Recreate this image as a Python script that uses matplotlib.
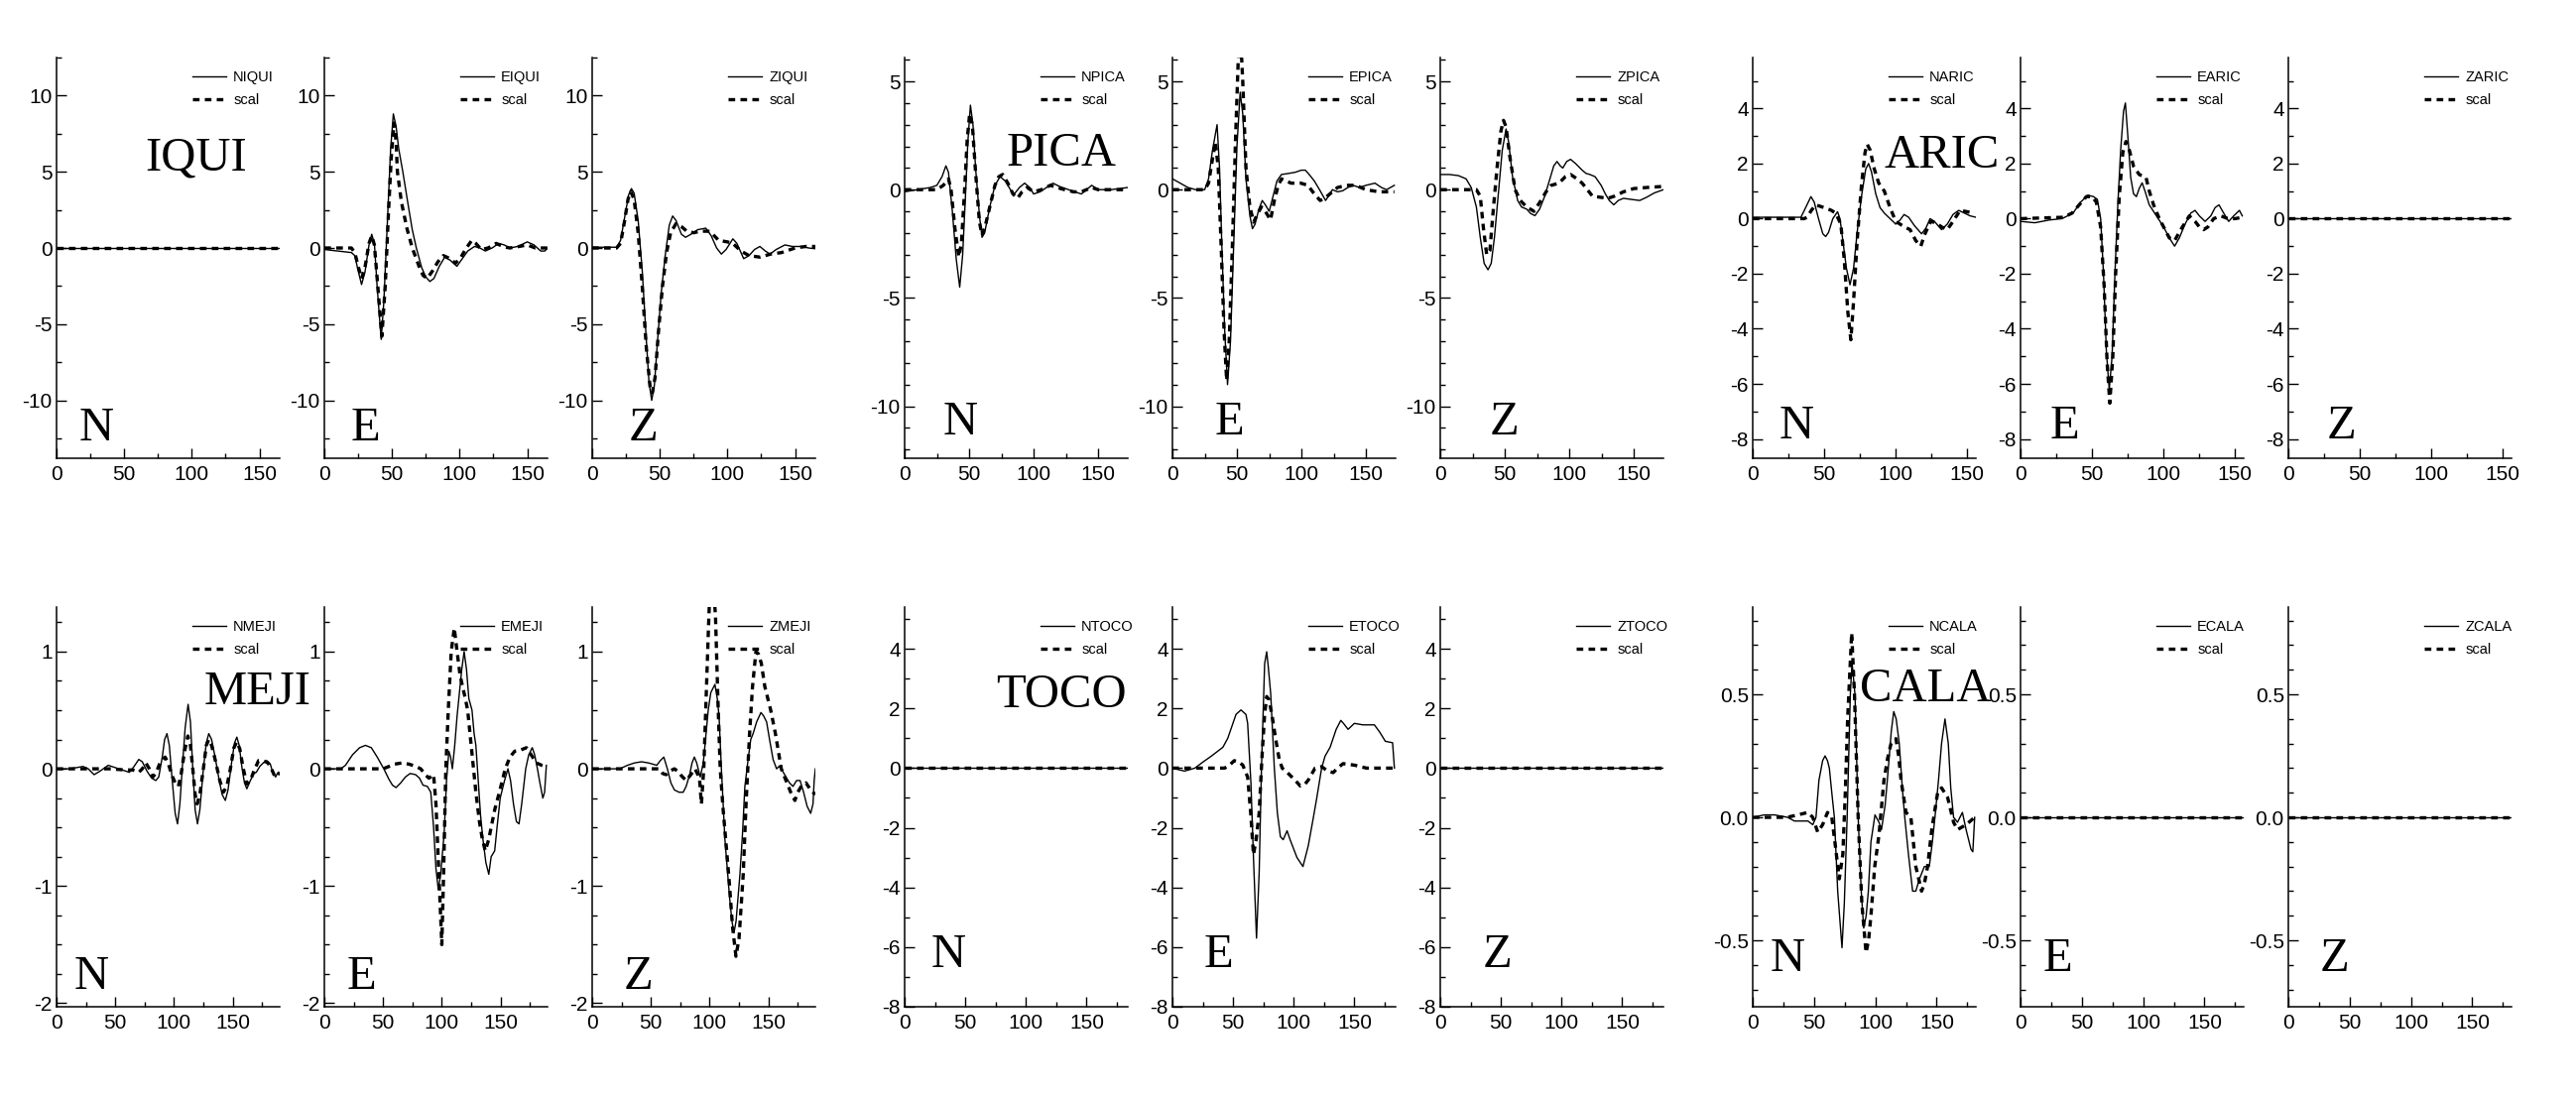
import matplotlib
matplotlib.use('Agg')
import matplotlib.pyplot as plt
from matplotlib.ticker import MultipleLocator, FormatStrFormatter

plt.rcParams['font.family'] = ['Liberation Sans', 'DejaVu Sans']
plt.rcParams['axes.unicode_minus'] = False

# ---- data: (time [s], amplitude) ----
stations = ['IQUI', 'PICA', 'ARIC', 'MEJI', 'TOCO', 'CALA']
components = ['N', 'E', 'Z']
durations = [165, 173, 156, 190, 184, 182]
y_ranges = [(-13.8, 12.5), (-12.4, 6.1), (-8.7, 5.85), (-2.03, 1.38), (-8.0, 5.4), (-0.77, 0.855)]
y_major = [5, 5, 2, 1, 2, 0.5]
y_minor = [2.5, 1, 1, 0.25, 1, 0.1]
y_fmt = ['%g', '%g', '%g', '%g', '%g', '%.1f']

iqui_n_obs = [(0, 0), (165, 0)]
iqui_n_syn = [(0, 0), (165, 0)]
iqui_e_obs = [(0, -0.1), (10, -0.2), (20, -0.3), (22.5, -0.5), (25, -1.5), (27.5, -2.4), (30, -1.6), (33, 0.2),
              (35, 0.9), (37, 0.3), (39, -2.5), (42, -6.0), (44, -3.5), (47, 2.5), (49, 6.5), (51, 8.8), (53, 8.0),
              (55, 6.5), (58, 5.0), (62, 2.8), (65, 1.2), (68, 0.0), (72, -1.3), (75, -1.9), (78, -2.2), (81, -2.0),
              (85, -1.2), (89, -0.6), (93, -0.8), (98, -1.2), (102, -0.7), (106, -0.2), (111, 0.1), (115, 0.0),
              (119, -0.2), (124, 0.0), (129, 0.3), (133, 0.2), (137, 0.0), (143, 0.1), (150, 0.4), (155, 0.2),
              (160, -0.2), (163, -0.2), (165, 0.0)]
iqui_e_syn = [(0, 0), (20, 0), (22.5, -0.3), (25, -1.2), (27.5, -2.0), (30, -1.3), (33, 0.3), (35, 0.8), (37, 0.2),
              (39.5, -2.5), (42.5, -5.8), (45, -2.5), (47.5, 2.5), (49.5, 6.0), (51.5, 8.2), (53, 7.0), (54, 5.0),
              (57, 3.0), (61, 1.3), (65, 0.0), (70, -1.2), (73, -1.8), (76, -2.0), (80, -1.5), (84, -0.9), (88, -0.5),
              (93, -0.7), (97, -1.0), (101, -0.6), (105, 0.0), (109, 0.5), (112, 0.3), (116, -0.1), (121, 0.0),
              (127, 0.3), (132, 0.1), (137, 0.0), (144, 0.1), (150, 0.2), (156, 0.0), (165, 0.0)]
iqui_z_obs = [(0, 0.05), (18, 0.05), (21, 0.5), (24, 2.0), (27, 3.5), (29, 3.9), (31, 3.6), (34, 1.8), (37, -1.5),
              (40, -6.0), (42, -8.8), (44, -10.0), (46, -9.0), (48, -6.5), (51, -3.0), (54, -0.5), (57, 1.5),
              (59.5, 2.1), (62, 1.8), (66, 0.9), (69, 0.7), (73, 0.9), (78, 1.2), (84, 1.3), (88, 0.8), (92, 0.0),
              (95.5, -0.4), (99, -0.1), (104, 0.6), (107, 0.3), (112, -0.7), (116, -0.5), (120, -0.1), (124, 0.1),
              (128, -0.2), (131.5, -0.4), (136, -0.1), (142.5, 0.2), (148, 0.1), (155, 0.1), (160, 0.0), (165, -0.05)]
iqui_z_syn = [(0, 0), (18, 0), (21, 0.3), (24, 1.8), (26.5, 3.2), (28.5, 3.7), (31, 3.2), (34, 1.0), (37, -2.5),
              (40, -6.5), (43, -9.3), (44.5, -9.5), (46.5, -8.5), (49, -5.5), (52, -2.5), (55, -0.3), (58, 1.0),
              (62, 1.6), (66, 1.4), (70, 1.1), (75, 1.0), (80, 1.1), (87, 1.1), (93.5, 0.5), (100, 0.4), (104, 0.3),
              (110, -0.2), (116, -0.5), (124, -0.6), (132, -0.4), (140, -0.3), (150, 0.0), (158, 0.1), (165, 0.1)]

pica_n_obs = [(0, -0.1), (10, 0.0), (20, 0.1), (25, 0.2), (29, 0.6), (32, 1.1), (34, 0.8), (37, -1.0), (40, -3.2),
              (42.7, -4.5), (45, -3.0), (47, -0.5), (49, 2.2), (51, 3.9), (53, 3.0), (55, 1.0), (58, -1.2),
              (60, -2.2), (62, -2.0), (66, -0.8), (70, 0.2), (74, 0.6), (78, 0.4), (82, 0.0), (85, -0.2), (89, 0.1),
              (93, 0.3), (97, 0.1), (100, -0.2), (105, -0.1), (110, 0.1), (115, 0.3), (120, 0.15), (127, 0.0),
              (132, -0.1), (137, -0.2), (141, 0.0), (145, 0.2), (150, 0.0), (160, 0.0), (173, 0.1)]
pica_n_syn = [(0, 0), (25, 0.0), (30, 0.2), (34, 0.5), (36, 0.0), (39, -1.8), (42, -3.1), (44, -2.5), (46.5, 0.0),
              (48.5, 2.3), (50.4, 3.5), (52.5, 3.0), (55, 0.8), (58, -1.5), (60, -2.1), (62, -1.8), (66, -0.8),
              (70, 0.2), (73, 0.6), (76, 0.7), (80, 0.3), (84, -0.2), (87.5, -0.4), (91, -0.1), (95, 0.1),
              (100, -0.1), (106, 0.0), (113, 0.2), (118, 0.1), (124, 0.0), (131, -0.1), (137, -0.1), (145, 0.1),
              (150, 0.0), (173, 0.0)]
pica_e_obs = [(0, 0.5), (6, 0.3), (12, 0.1), (18, 0.0), (25, 0.0), (28, 0.5), (31, 1.8), (34.6, 3.0), (36.5, 1.0),
              (38.5, -3.0), (40.5, -6.5), (42.7, -9.0), (45, -7.0), (47.5, -2.5), (50, 2.0), (52.5, 4.5), (54.5, 3.5),
              (57, 0.5), (60, -1.2), (62, -1.8), (64, -1.6), (67, -0.9), (69.6, -0.5), (72, -0.7), (75, -1.0),
              (78, -0.3), (81, 0.4), (84.5, 0.7), (90, 0.75), (95, 0.8), (100, 0.9), (103, 0.9), (106, 0.7),
              (110, 0.4), (114, 0.0), (118.7, -0.5), (121, -0.3), (124, 0.0), (128, -0.1), (132, -0.05), (136, 0.1),
              (140, 0.2), (145, 0.1), (150, 0.2), (157, 0.3), (162, 0.1), (166, 0.0), (172, 0.2)]
pica_e_syn = [(0, 0), (25, 0.0), (28, 0.3), (31, 1.4), (33.3, 2.2), (35.5, 1.0), (38, -3.0), (40, -6.5), (42, -8.8),
              (44, -7.0), (46.5, -2.5), (49, 2.5), (51, 6.0), (52.5, 7.5), (54.5, 5.0), (57, 1.0), (60, -0.8),
              (63, -1.5), (66, -1.1), (69, -0.8), (72, -1.0), (76, -1.4), (79, -0.5), (82, 0.2), (84.5, 0.5),
              (88, 0.4), (92, 0.3), (99.5, 0.3), (105, 0.2), (110, -0.2), (114.5, -0.5), (118, -0.4), (122, -0.2),
              (128, 0.1), (135, 0.2), (142, 0.2), (150, 0.0), (160, -0.1), (172, -0.1)]
pica_z_obs = [(0, 0.7), (7, 0.7), (14, 0.65), (20, 0.5), (24, 0.1), (28, -0.8), (31, -2.2), (34, -3.4), (37, -3.7),
              (39.5, -3.4), (42, -2.2), (45, -0.2), (48, 1.8), (51, 2.8), (53, 2.2), (56, 0.6), (60, -0.5),
              (63, -0.8), (67, -0.9), (70, -1.1), (73.4, -1.2), (77, -0.9), (81, -0.3), (85, 0.5), (88, 1.1),
              (90.5, 1.3), (93, 1.1), (95, 1.0), (98, 1.3), (101, 1.4), (105, 1.2), (110, 0.9), (113, 0.75),
              (116, 0.7), (120, 0.6), (124.7, 0.2), (128, -0.2), (131, -0.5), (134.5, -0.7), (138, -0.5),
              (142, -0.4), (148, -0.45), (154.6, -0.5), (160, -0.35), (166, -0.15), (173, 0.0)]
pica_z_syn = [(0, 0), (28, 0.0), (31, -0.3), (33.5, -1.8), (36, -3.0), (38.5, -2.8), (41, -1.0), (44, 1.0), (47, 2.7),
              (49, 3.2), (51, 2.9), (54, 1.5), (58, 0.0), (62, -0.5), (67, -0.8), (72.6, -1.0), (77, -0.6),
              (82, -0.1), (86, 0.2), (92, 0.3), (97, 0.6), (101, 0.7), (106, 0.5), (110, 0.3), (114, 0.0),
              (118, -0.3), (124, -0.35), (130, -0.4), (135, -0.3), (142, -0.1), (150, 0.05), (160, 0.1), (173, 0.15)]

aric_n_obs = [(0, 0.05), (15, 0.05), (33.7, 0.05), (37, 0.4), (40.7, 0.8), (43, 0.6), (46, 0.0), (49, -0.55),
              (51, -0.65), (53, -0.5), (56, 0.0), (59.3, 0.25), (61, 0.0), (63, -0.8), (65.5, -1.8), (68, -2.4),
              (70.5, -1.8), (73, -0.5), (76, 0.8), (79, 1.8), (81, 2.0), (83, 1.7), (86, 0.9), (89, 0.4), (92, 0.2),
              (96, 0.0), (100, -0.2), (103, -0.05), (105.8, 0.15), (109, 0.05), (113, -0.25), (118, -0.55),
              (121, -0.35), (124, 0.0), (127, -0.1), (132, -0.4), (136, -0.2), (140, 0.15), (144, 0.3), (148, 0.2),
              (152, 0.1), (156, 0.05)]
aric_n_syn = [(0, 0), (36, 0.0), (38, 0.05), (41, 0.3), (44, 0.5), (50, 0.4), (55, 0.3), (58, 0.2), (61.6, -0.2),
              (64, -1.5), (66.5, -3.4), (68.6, -4.4), (70.5, -3.0), (73, -0.8), (76, 1.2), (78.5, 2.4), (80, 2.7),
              (82, 2.5), (85, 1.8), (88, 1.3), (92, 1.0), (96, 0.4), (100, -0.1), (106, -0.3), (110, -0.4),
              (114, -0.8), (117.5, -1.0), (120, -0.6), (124.4, -0.1), (128, -0.15), (132, -0.3), (136, -0.4),
              (140, -0.1), (145, 0.3), (150, 0.25), (154.7, 0.2)]
aric_e_obs = [(0, -0.1), (10, -0.15), (20, -0.05), (29, 0.0), (36.7, 0.2), (42, 0.6), (47, 0.85), (51, 0.8),
              (53.7, 0.7), (56, 0.0), (58, -2.0), (60, -4.8), (62, -6.2), (64, -5.0), (66, -2.0), (68, 0.5),
              (70, 2.5), (72, 3.9), (73.3, 4.2), (75, 3.0), (77, 1.5), (79, 0.9), (81, 0.8), (83, 1.1), (85, 1.3),
              (87, 1.0), (90, 0.5), (95, 0.1), (100, -0.3), (104, -0.7), (107.7, -1.0), (111, -0.7), (115, -0.2),
              (119, 0.2), (122, 0.3), (125, 0.1), (129, -0.1), (133, 0.1), (136, 0.4), (138.7, 0.5), (142, 0.2),
              (145.5, -0.1), (149, 0.1), (153, 0.3), (155, 0.1)]
aric_e_syn = [(0, 0), (30, 0.05), (36, 0.2), (41, 0.5), (46, 0.8), (50, 0.8), (53, 0.6), (56, -0.3), (58.5, -2.5),
              (60.5, -5.2), (62.4, -6.7), (64.5, -5.0), (66.5, -2.0), (69, 0.8), (71.5, 2.4), (73.7, 2.8), (76, 2.5),
              (79, 1.9), (83, 1.6), (87.7, 1.5), (90, 1.0), (93, 0.5), (97, 0.0), (101, -0.4), (104, -0.7),
              (107.7, -0.8), (112, -0.4), (118, 0.1), (122, -0.1), (125, -0.3), (128, -0.4), (131, -0.3), (135, 0.0),
              (140, 0.1), (145, 0.0), (150, 0.0), (155, 0.05)]
aric_z_obs = [(0, 0), (156, 0)]
aric_z_syn = [(0, 0), (156, 0)]

meji_n_obs = [(0, 0.0), (10, 0.0), (17, 0.01), (22.5, 0.02), (27, 0.0), (32, -0.05), (37, -0.02), (44, 0.03),
              (50, 0.01), (56, -0.01), (62, -0.03), (66, 0.02), (70, 0.08), (73, 0.06), (77, -0.02), (81, -0.08),
              (84.5, -0.1), (87, -0.07), (90, 0.1), (92, 0.25), (94, 0.3), (96, 0.2), (98.5, -0.1), (101, -0.38),
              (103, -0.47), (105, -0.3), (107, 0.0), (109.5, 0.35), (112, 0.55), (114, 0.4), (116, 0.0),
              (118, -0.35), (120, -0.47), (122, -0.35), (125, 0.0), (127.5, 0.22), (129.6, 0.3), (132, 0.25),
              (135, 0.1), (138.5, -0.1), (141, -0.22), (143.7, -0.27), (146, -0.18), (149, 0.05), (151.5, 0.22),
              (153.5, 0.27), (155.5, 0.2), (158, 0.0), (160, -0.12), (162, -0.17), (165, -0.1), (168, -0.04),
              (170, -0.03), (173, 0.02), (176, 0.05), (179, 0.07), (182, 0.04), (184, -0.03), (186.5, -0.07),
              (188, -0.04), (190, -0.05)]
meji_n_syn = [(0, 0.0), (45, 0.0), (59, -0.01), (65, -0.01), (70, -0.03), (73, 0.0), (76, 0.05), (79, 0.0),
              (82, -0.07), (85, -0.03), (88, 0.05), (92.4, 0.1), (95, 0.05), (98, -0.05), (101, -0.12),
              (103.7, -0.15), (106, -0.05), (109, 0.15), (111.8, 0.28), (114, 0.2), (116, 0.0), (118, -0.22),
              (119.7, -0.3), (122, -0.22), (125, 0.0), (127.5, 0.2), (129.6, 0.25), (132, 0.2), (135, 0.08),
              (139, -0.1), (142, -0.2), (145, -0.15), (148, 0.0), (151, 0.18), (153.5, 0.23), (156, 0.17), (159, 0.0),
              (162, -0.13), (165, -0.1), (168, -0.02), (172, 0.07), (176, 0.07), (180, 0.05), (183, 0.0),
              (186, -0.07), (190, -0.03)]
meji_e_obs = [(0, 0.0), (14, 0.0), (18, 0.03), (24, 0.12), (30, 0.18), (35, 0.2), (40, 0.18), (45, 0.1), (50.6, 0.0),
              (55, -0.09), (58, -0.14), (61, -0.16), (65, -0.12), (69, -0.07), (73, -0.04), (77.7, -0.05),
              (81, -0.08), (84, -0.14), (87.7, -0.15), (90.6, -0.2), (93, -0.5), (95, -0.85), (97, -1.03),
              (99, -0.9), (102, -0.55), (104, -0.1), (106, 0.15), (107.5, 0.1), (109, 0.0), (111, 0.2), (113, 0.45),
              (115, 0.65), (117, 0.85), (119, 1.0), (121, 0.85), (123, 0.6), (125.7, 0.5), (127.5, 0.3), (129, 0.2),
              (131, -0.1), (133, -0.4), (135, -0.6), (137.5, -0.8), (140, -0.9), (142, -0.75), (145, -0.7),
              (147, -0.5), (149.7, -0.25), (153.4, -0.1), (156.3, 0.0), (158.5, -0.1), (161, -0.3), (163.5, -0.45),
              (165.7, -0.47), (168, -0.3), (171.4, 0.0), (174, 0.12), (177, 0.18), (179, 0.12), (181.4, 0.0),
              (183.5, -0.12), (186, -0.25), (187.5, -0.2), (189, 0.03)]
meji_e_syn = [(0, 0.0), (50, 0.0), (55, 0.02), (60, 0.04), (66, 0.05), (72, 0.04), (78, 0.02), (82, 0.0),
              (86, -0.05), (89, -0.08), (93, -0.05), (95, -0.3), (97.5, -0.9), (100, -1.5), (101.5, -0.9),
              (103.4, 0.0), (105.5, 0.5), (108, 1.0), (110.6, 1.2), (113, 1.0), (115.5, 0.8), (117.7, 0.7),
              (120, 0.6), (122, 0.5), (124, 0.3), (126, 0.1), (129, -0.2), (132, -0.45), (134.5, -0.6), (137, -0.7),
              (140, -0.6), (142, -0.5), (145, -0.35), (149, -0.2), (151.5, -0.1), (154, 0.0), (158, 0.1),
              (162, 0.15), (167, 0.16), (172, 0.18), (176, 0.12), (180.5, 0.05), (185, 0.03), (189, 0.02)]
meji_z_obs = [(0, 0.0), (23.6, 0.0), (30, 0.03), (36, 0.05), (42, 0.06), (48, 0.05), (55, 0.03), (58, 0.07),
              (61, 0.1), (64, 0.0), (67, -0.12), (70, -0.18), (74, -0.2), (77.5, -0.2), (80, -0.15), (83, -0.05),
              (85, 0.05), (87, 0.1), (89, 0.05), (92, -0.07), (94.6, 0.05), (96.5, 0.25), (98.8, 0.5), (101, 0.65),
              (104.5, 0.72), (106.5, 0.6), (108, 0.45), (110, 0.0), (113, -0.6), (115, -0.85), (117, -1.1),
              (119, -1.3), (120.7, -1.4), (122.5, -1.3), (125.8, -0.9), (128, -0.55), (130, -0.15), (133, 0.1),
              (135, 0.25), (137, 0.3), (140, 0.4), (143.7, 0.48), (146, 0.45), (148.5, 0.4), (151, 0.25),
              (154, 0.08), (157, 0.0), (159, 0.02), (161, 0.0), (165, -0.07), (168, -0.12), (171, -0.15),
              (174, -0.1), (177, -0.1), (180, -0.2), (183, -0.32), (186, -0.38), (188, -0.3), (189, -0.1), (190, 0.0)]
meji_z_syn = [(0, 0.0), (57, 0.0), (60, -0.04), (63, -0.05), (66, -0.02), (70, 0.0), (74, -0.03), (76, -0.06),
              (80, -0.1), (84, -0.05), (87.5, 0.0), (90, -0.05), (91.5, -0.1), (93, -0.3), (95, 0.0), (97, 0.6),
              (99, 1.2), (100.5, 1.6), (103, 1.6), (105, 1.3), (107, 0.6), (109, 0.0), (111.5, -0.35), (114.5, -0.7),
              (117, -1.0), (119.5, -1.35), (122.4, -1.6), (125, -1.45), (128.6, -0.9), (131, -0.3), (134, 0.3),
              (136.5, 0.7), (139.4, 1.0), (141.5, 0.98), (144, 0.9), (147, 0.7), (152, 0.5), (156, 0.3), (161, 0.0),
              (165, -0.1), (169, -0.2), (172.6, -0.27), (175, -0.2), (178, -0.15), (182, -0.12), (186, -0.18),
              (190, -0.22)]

toco_n_obs = [(0, 0), (184, 0)]
toco_n_syn = [(0, 0), (184, 0)]
toco_e_obs = [(0, 0.0), (10, -0.1), (18.5, 0.0), (25, 0.2), (32, 0.4), (41.6, 0.7), (45.6, 1.0), (49, 1.4),
              (52.4, 1.8), (56.5, 1.95), (60.6, 1.8), (62, 1.5), (64.7, -0.5), (66.8, -3.0), (69.3, -5.7),
              (71.5, -3.5), (73.4, 0.0), (76, 3.5), (77.7, 3.9), (79, 3.4), (81, 2.5), (84, 0.0), (86.5, -1.5),
              (89, -2.3), (91.3, -2.4), (94.5, -2.1), (97, -2.4), (102.7, -3.0), (107.6, -3.3), (112, -2.6),
              (116, -1.7), (119, -1.0), (123, 0.0), (125.8, 0.4), (130, 0.7), (135, 1.3), (138.8, 1.6), (141, 1.5),
              (144.8, 1.3), (150, 1.5), (157, 1.45), (166.5, 1.45), (171, 1.2), (175.5, 0.9), (181.5, 0.85),
              (183, 0.0)]
toco_e_syn = [(0, 0.0), (43, 0.0), (47, 0.1), (51, 0.25), (55, 0.2), (58, 0.1), (62, -0.3), (64.5, -1.5),
              (66.8, -2.9), (69, -2.4), (71.5, -1.5), (74, 0.5), (76, 1.8), (77.7, 2.4), (79.5, 2.3), (82, 1.8),
              (85, 1.0), (88, 0.3), (90.5, 0.0), (96, -0.2), (101, -0.4), (105.4, -0.6), (109, -0.55), (112, -0.4),
              (117.6, 0.0), (123, 0.05), (128, -0.1), (132.6, -0.15), (136, 0.0), (140.7, 0.15), (150, 0.1),
              (160, 0.0), (183, 0.0)]
toco_z_obs = [(0, 0), (184, 0)]
toco_z_syn = [(0, 0), (184, 0)]

cala_n_obs = [(0, 0.0), (9.5, 0.01), (17.7, 0.01), (28.5, 0.0), (34, -0.015), (45, -0.015), (49, -0.03), (51.6, 0.0),
              (54, 0.15), (57, 0.23), (59, 0.25), (61, 0.23), (62.5, 0.2), (64.5, 0.1), (66.6, 0.0), (69.3, -0.3),
              (72.8, -0.53), (74.7, -0.35), (77, 0.0), (79.6, 0.5), (81, 0.63), (83.4, 0.5), (86, 0.0),
              (88.5, -0.3), (90.5, -0.45), (92.5, -0.4), (94.3, -0.3), (96.4, -0.1), (99.7, 0.01), (103, -0.02),
              (105, -0.05), (108, 0.05), (110.6, 0.2), (113, 0.35), (115, 0.43), (117, 0.4), (119.5, 0.3),
              (122, 0.12), (124, 0.0), (127, -0.15), (130.4, -0.3), (133, -0.3), (136, -0.25), (140, -0.2),
              (144, -0.2), (146.5, -0.1), (148.6, 0.0), (151.5, 0.15), (154, 0.3), (156.8, 0.4), (159.5, 0.3),
              (161.5, 0.12), (163.8, 0.0), (167, -0.02), (171, 0.02), (174, -0.05), (178, -0.13), (179.5, -0.14),
              (181, 0.0)]
cala_n_syn = [(0, 0.0), (28, 0.0), (36.7, 0.01), (45, 0.02), (49, 0.0), (53, -0.06), (57, -0.03), (61, 0.02),
              (64.5, 0.0), (67.5, -0.12), (70.6, -0.25), (73.5, -0.15), (75.5, 0.1), (77.4, 0.4), (80.7, 0.75),
              (83, 0.5), (86, 0.0), (89, -0.35), (92.4, -0.55), (94.5, -0.5), (96.4, -0.4), (99.5, -0.2),
              (103, -0.07), (107, 0.15), (110, 0.24), (112.8, 0.3), (116.8, 0.32), (119, 0.25), (121, 0.15),
              (125, 0.02), (129, 0.0), (133, -0.2), (137.7, -0.3), (140, -0.27), (142.6, -0.2), (146, -0.05),
              (150.8, 0.1), (154, 0.12), (159, 0.08), (163.8, -0.02), (167, -0.05), (174, -0.03), (181, 0.0)]
cala_e_obs = [(0, 0), (182, 0)]
cala_e_syn = [(0, 0), (182, 0)]
cala_z_obs = [(0, 0), (182, 0)]
cala_z_syn = [(0, 0), (182, 0)]

observed = [[iqui_n_obs, iqui_e_obs, iqui_z_obs], [pica_n_obs, pica_e_obs, pica_z_obs],
            [aric_n_obs, aric_e_obs, aric_z_obs], [meji_n_obs, meji_e_obs, meji_z_obs],
            [toco_n_obs, toco_e_obs, toco_z_obs], [cala_n_obs, cala_e_obs, cala_z_obs]]
synthetic = [[iqui_n_syn, iqui_e_syn, iqui_z_syn], [pica_n_syn, pica_e_syn, pica_z_syn],
             [aric_n_syn, aric_e_syn, aric_z_syn], [meji_n_syn, meji_e_syn, meji_z_syn],
             [toco_n_syn, toco_e_syn, toco_z_syn], [cala_n_syn, cala_e_syn, cala_z_syn]]

# ---- layout (pixels of the 2597x1108 canvas) ----
W, H = 2597, 1108
group_left = [57, 912, 1767]
panel_step = 270
panel_w = 225
row_span = [(58, 462), (612, 1015)]
name_pos = [(0.395, 0.72), (0.455, 0.73), (0.59, 0.725), (0.66, 0.757), (0.41, 0.75), (0.48, 0.765)]
letter_x = [[0.10, 0.12, 0.165], [0.17, 0.19, 0.22], [0.12, 0.13, 0.17],
            [0.08, 0.10, 0.14], [0.12, 0.14, 0.19], [0.08, 0.10, 0.14]]
letter_y = [0.045, 0.06, 0.05, 0.045, 0.10, 0.09]

fig = plt.figure(figsize=(W / 100, H / 100), dpi=100)

for s, station in enumerate(stations):
    row, g = divmod(s, 3)
    top, bottom = row_span[row]
    for c, comp in enumerate(components):
        x0 = group_left[g] + c * panel_step
        ax = fig.add_axes([x0 / W, (H - bottom) / H, panel_w / W, (bottom - top) / H])
        ax.patch.set_alpha(0)

        t_o, v_o = zip(*observed[s][c])
        t_s, v_s = zip(*synthetic[s][c])
        ax.plot(t_o, v_o, color='black', lw=1.0, label=comp + station)
        ax.plot(t_s, v_s, color='black', lw=2.4, dashes=(2.0, 1.6), label='scal')

        ax.set_xlim(0, durations[s])
        ax.set_ylim(*y_ranges[s])
        ax.xaxis.set_major_locator(MultipleLocator(50))
        ax.xaxis.set_minor_locator(MultipleLocator(25))
        ax.yaxis.set_major_locator(MultipleLocator(y_major[s]))
        ax.yaxis.set_minor_locator(MultipleLocator(y_minor[s]))
        ax.yaxis.set_major_formatter(FormatStrFormatter(y_fmt[s]))
        for side in ('top', 'right'):
            ax.spines[side].set_visible(False)
        for side in ('left', 'bottom'):
            ax.spines[side].set_linewidth(1.1)
        ax.tick_params(which='major', direction='in', length=7, width=1.0, labelsize=15)
        ax.tick_params(which='minor', direction='in', length=3.5, width=1.0)
        ax.tick_params(axis='y', pad=3)
        ax.tick_params(axis='x', pad=5)

        ax.legend(loc='upper left', bbox_to_anchor=(0.61, 0.967), frameon=False, fontsize=10.5,
                  handlelength=2.3, handletextpad=0.5, labelspacing=0.6, borderpad=0, borderaxespad=0)

        ax.text(letter_x[s][c], letter_y[s], comp, transform=ax.transAxes, family='Liberation Serif',
                fontsize=35, va='baseline', ha='left')
        if c == 0:
            ax.text(name_pos[s][0], name_pos[s][1], station, transform=ax.transAxes, family='Liberation Serif',
                    fontsize=35, va='baseline', ha='left', clip_on=False, zorder=10)

fig.savefig('out.png', dpi=100)
